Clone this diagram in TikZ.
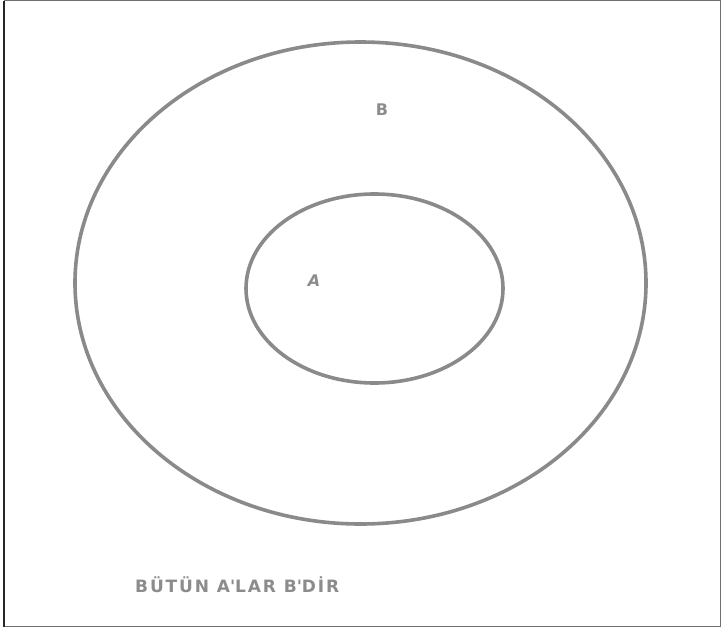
\documentclass[tikz,border=0pt]{standalone}
\usepackage{fontspec}
\usetikzlibrary{shapes.geometric}
\setmainfont{DejaVu Sans}
\newfontfamily\capfont[LetterSpace=11]{DejaVu Sans}
\definecolor{ringgray}{HTML}{8A8A8A}
\definecolor{textgray}{HTML}{8C8C8C}
\definecolor{framegray}{HTML}{707070}
\tikzset{
  ring/.style={draw=ringgray, line width=3.6pt},
  lbl/.style={text=textgray, font=\bfseries\fontsize{16}{19}\selectfont, inner sep=0pt},
  frameline/.style={draw=framegray, line width=1pt}
}
\begin{document}
\begin{tikzpicture}[x=1pt,y=-1pt]
\useasboundingbox (0,0) rectangle (721,630);
\fill[white] (0,0) rectangle (721,630);
\coordinate (tl) at (4,0.7);
\coordinate (tr) at (720.3,0.7);
\coordinate (br) at (720.3,626.5);
\coordinate (bl) at (4,626.5);
\draw[frameline] (tl) -- (tr) -- (br) -- (bl);
\draw[draw=black!85, line width=1.5pt] (bl) -- (tl);
\node[ring, ellipse, minimum width=571, minimum height=482, inner sep=0pt] (outer) at (360.5,283) {};
\node[ring, ellipse, minimum width=257, minimum height=189, inner sep=0pt] (inner) at (374.5,288.5) {};
\node[lbl] (b) at (382,110) {B};
\node[lbl, font=\bfseries\itshape\fontsize{16}{19}\selectfont] (a) at (314,281) {A};
\node[lbl, anchor=west, font=\capfont\bfseries\fontsize{17}{20}\selectfont] (caption) at (135,585) {BÜTÜN A\textquotesingle LAR B\textquotesingle DİR};
\end{tikzpicture}
\end{document}
